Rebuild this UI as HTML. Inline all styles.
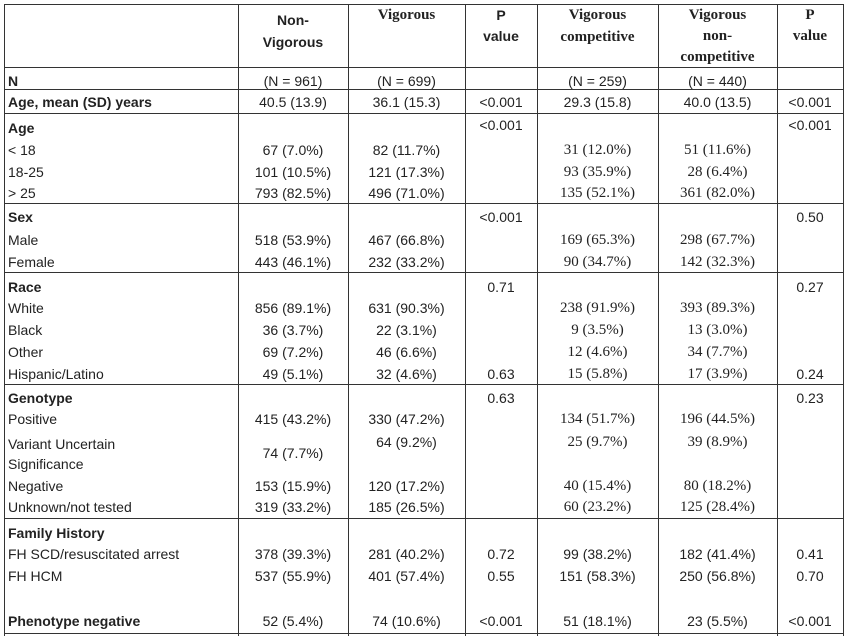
<!DOCTYPE html>
<html><head><meta charset="utf-8"><style>
body{margin:0;background:#fff;width:851px;height:636px;overflow:hidden;position:relative;font-family:"Liberation Sans",sans-serif;color:#222}
.h{position:absolute;height:1px;background:#333;left:4px;width:840px}
.v{position:absolute;width:1px;background:#333;top:4px;height:632px}
.t{position:absolute;line-height:18px;height:18px;white-space:nowrap;font-size:14px}
.s{font-family:"Liberation Serif",serif;font-size:15px}
.b{font-weight:bold}
.c0{left:8px}
.c1{left:238px;width:110px;text-align:center}
.c2{left:348px;width:117px;text-align:center}
.c3{left:465px;width:72px;text-align:center}
.c4{left:537px;width:121px;text-align:center}
.c5{left:658px;width:119px;text-align:center}
.c6{left:777px;width:66px;text-align:center}
</style></head><body>
<div class="h" style="top:4px"></div>
<div class="h" style="top:67px"></div>
<div class="h" style="top:89px"></div>
<div class="h" style="top:113px"></div>
<div class="h" style="top:203px"></div>
<div class="h" style="top:272px"></div>
<div class="h" style="top:384px"></div>
<div class="h" style="top:518px"></div>
<div class="h" style="top:633px"></div>
<div class="v" style="left:4px"></div>
<div class="v" style="left:238px"></div>
<div class="v" style="left:348px"></div>
<div class="v" style="left:465px"></div>
<div class="v" style="left:537px"></div>
<div class="v" style="left:658px"></div>
<div class="v" style="left:777px"></div>
<div class="v" style="left:843px"></div>

<!-- header -->
<div class="t b c1" style="top:11px">Non-</div>
<div class="t b c1" style="top:33px">Vigorous</div>
<div class="t b s c2" style="top:6px">Vigorous</div>
<div class="t b c3" style="top:6px">P</div>
<div class="t b c3" style="top:27px">value</div>
<div class="t b s c4" style="top:6px">Vigorous</div>
<div class="t b s c4" style="top:28px">competitive</div>
<div class="t b s c5" style="top:6px">Vigorous</div>
<div class="t b s c5" style="top:27px">non-</div>
<div class="t b s c5" style="top:48px">competitive</div>
<div class="t b s c6" style="top:6px">P</div>
<div class="t b s c6" style="top:27px">value</div>

<div class="t b c0" style="top:72px">N</div>
<div class="t c1" style="top:72px">(N = 961)</div>
<div class="t c2" style="top:72px">(N = 699)</div>
<div class="t c4" style="top:72px">(N = 259)</div>
<div class="t c5" style="top:72px">(N = 440)</div>

<div class="t b c0" style="top:93px">Age, mean (SD) years</div>
<div class="t c1" style="top:93px">40.5 (13.9)</div>
<div class="t c2" style="top:93px">36.1 (15.3)</div>
<div class="t c3" style="top:93px">&lt;0.001</div>
<div class="t c4" style="top:93px">29.3 (15.8)</div>
<div class="t c5" style="top:93px">40.0 (13.5)</div>
<div class="t c6" style="top:93px">&lt;0.001</div>

<div class="t b c0" style="top:119px">Age</div>
<div class="t c3" style="top:116px">&lt;0.001</div>
<div class="t c6" style="top:116px">&lt;0.001</div>
<div class="t c0" style="top:141px">&lt; 18</div>
<div class="t c1" style="top:141px">67 (7.0%)</div>
<div class="t c2" style="top:141px">82 (11.7%)</div>
<div class="t s c4" style="top:141px">31 (12.0%)</div>
<div class="t s c5" style="top:141px">51 (11.6%)</div>
<div class="t c0" style="top:163px">18-25</div>
<div class="t c1" style="top:163px">101 (10.5%)</div>
<div class="t c2" style="top:163px">121 (17.3%)</div>
<div class="t s c4" style="top:163px">93 (35.9%)</div>
<div class="t s c5" style="top:163px">28 (6.4%)</div>
<div class="t c0" style="top:184px">&gt; 25</div>
<div class="t c1" style="top:184px">793 (82.5%)</div>
<div class="t c2" style="top:184px">496 (71.0%)</div>
<div class="t s c4" style="top:184px">135 (52.1%)</div>
<div class="t s c5" style="top:184px">361 (82.0%)</div>

<div class="t b c0" style="top:208px">Sex</div>
<div class="t c3" style="top:208px">&lt;0.001</div>
<div class="t c6" style="top:208px">0.50</div>
<div class="t c0" style="top:231px">Male</div>
<div class="t c1" style="top:231px">518 (53.9%)</div>
<div class="t c2" style="top:231px">467 (66.8%)</div>
<div class="t s c4" style="top:231px">169 (65.3%)</div>
<div class="t s c5" style="top:231px">298 (67.7%)</div>
<div class="t c0" style="top:253px">Female</div>
<div class="t c1" style="top:253px">443 (46.1%)</div>
<div class="t c2" style="top:253px">232 (33.2%)</div>
<div class="t s c4" style="top:253px">90 (34.7%)</div>
<div class="t s c5" style="top:253px">142 (32.3%)</div>

<div class="t b c0" style="top:278px">Race</div>
<div class="t c3" style="top:278px">0.71</div>
<div class="t c6" style="top:278px">0.27</div>
<div class="t c0" style="top:299px">White</div>
<div class="t c1" style="top:299px">856 (89.1%)</div>
<div class="t c2" style="top:299px">631 (90.3%)</div>
<div class="t s c4" style="top:299px">238 (91.9%)</div>
<div class="t s c5" style="top:299px">393 (89.3%)</div>
<div class="t c0" style="top:321px">Black</div>
<div class="t c1" style="top:321px">36 (3.7%)</div>
<div class="t c2" style="top:321px">22 (3.1%)</div>
<div class="t s c4" style="top:321px">9 (3.5%)</div>
<div class="t s c5" style="top:321px">13 (3.0%)</div>
<div class="t c0" style="top:343px">Other</div>
<div class="t c1" style="top:343px">69 (7.2%)</div>
<div class="t c2" style="top:343px">46 (6.6%)</div>
<div class="t s c4" style="top:343px">12 (4.6%)</div>
<div class="t s c5" style="top:343px">34 (7.7%)</div>
<div class="t c0" style="top:365px">Hispanic/Latino</div>
<div class="t c1" style="top:365px">49 (5.1%)</div>
<div class="t c2" style="top:365px">32 (4.6%)</div>
<div class="t c3" style="top:365px">0.63</div>
<div class="t s c4" style="top:365px">15 (5.8%)</div>
<div class="t s c5" style="top:365px">17 (3.9%)</div>
<div class="t c6" style="top:365px">0.24</div>

<div class="t b c0" style="top:389px">Genotype</div>
<div class="t c3" style="top:389px">0.63</div>
<div class="t c6" style="top:389px">0.23</div>
<div class="t c0" style="top:410px">Positive</div>
<div class="t c1" style="top:410px">415 (43.2%)</div>
<div class="t c2" style="top:410px">330 (47.2%)</div>
<div class="t s c4" style="top:410px">134 (51.7%)</div>
<div class="t s c5" style="top:410px">196 (44.5%)</div>
<div class="t c0" style="top:435px">Variant Uncertain</div>
<div class="t c0" style="top:455px">Significance</div>
<div class="t c1" style="top:444px">74 (7.7%)</div>
<div class="t c2" style="top:433px">64 (9.2%)</div>
<div class="t s c4" style="top:433px">25 (9.7%)</div>
<div class="t s c5" style="top:433px">39 (8.9%)</div>
<div class="t c0" style="top:477px">Negative</div>
<div class="t c1" style="top:477px">153 (15.9%)</div>
<div class="t c2" style="top:477px">120 (17.2%)</div>
<div class="t s c4" style="top:477px">40 (15.4%)</div>
<div class="t s c5" style="top:477px">80 (18.2%)</div>
<div class="t c0" style="top:498px">Unknown/not tested</div>
<div class="t c1" style="top:498px">319 (33.2%)</div>
<div class="t c2" style="top:498px">185 (26.5%)</div>
<div class="t s c4" style="top:498px">60 (23.2%)</div>
<div class="t s c5" style="top:498px">125 (28.4%)</div>

<div class="t b c0" style="top:524px">Family History</div>
<div class="t c0" style="top:545px">FH SCD/resuscitated arrest</div>
<div class="t c1" style="top:545px">378 (39.3%)</div>
<div class="t c2" style="top:545px">281 (40.2%)</div>
<div class="t c3" style="top:545px">0.72</div>
<div class="t c4" style="top:545px">99 (38.2%)</div>
<div class="t c5" style="top:545px">182 (41.4%)</div>
<div class="t c6" style="top:545px">0.41</div>
<div class="t c0" style="top:567px">FH HCM</div>
<div class="t c1" style="top:567px">537 (55.9%)</div>
<div class="t c2" style="top:567px">401 (57.4%)</div>
<div class="t c3" style="top:567px">0.55</div>
<div class="t c4" style="top:567px">151 (58.3%)</div>
<div class="t c5" style="top:567px">250 (56.8%)</div>
<div class="t c6" style="top:567px">0.70</div>

<div class="t b c0" style="top:612px">Phenotype negative</div>
<div class="t c1" style="top:612px">52 (5.4%)</div>
<div class="t c2" style="top:612px">74 (10.6%)</div>
<div class="t c3" style="top:612px">&lt;0.001</div>
<div class="t c4" style="top:612px">51 (18.1%)</div>
<div class="t c5" style="top:612px">23 (5.5%)</div>
<div class="t c6" style="top:612px">&lt;0.001</div>
</body></html>
